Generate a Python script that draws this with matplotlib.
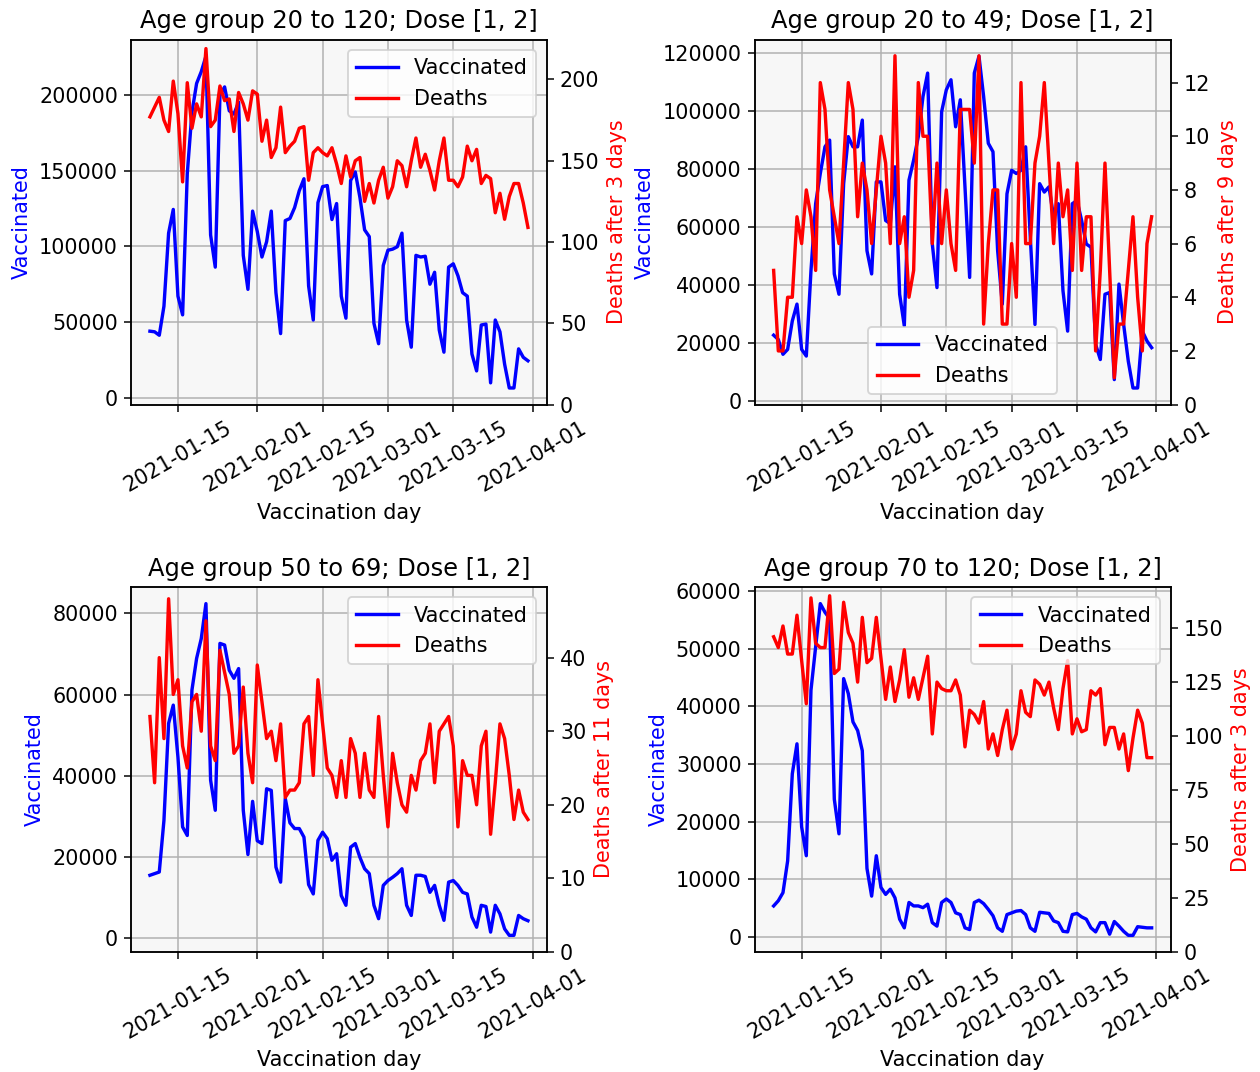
import numpy as np
import pandas as pd
import matplotlib
matplotlib.use('Agg')
import matplotlib.pyplot as plt
import matplotlib.dates as mdates

days = pd.date_range('2021-01-09', '2021-03-31', freq='D')
tick_days = pd.to_datetime(['2021-01-15', '2021-02-01', '2021-02-15',
                            '2021-03-01', '2021-03-15', '2021-04-01'])

titles = ['Age group 20 to 120; Dose [1, 2]', 'Age group 20 to 49; Dose [1, 2]',
          'Age group 50 to 69; Dose [1, 2]', 'Age group 70 to 120; Dose [1, 2]']
lags = [3, 9, 11, 3]
legend_locs = ['upper right', 'lower center', 'upper right', 'upper right']
vacc_ticks = [np.arange(0, 200001, 50000), np.arange(0, 120001, 20000),
              np.arange(0, 80001, 20000), np.arange(0, 60001, 10000)]
death_ticks = [np.arange(0, 201, 50), np.arange(0, 13, 2),
               np.arange(0, 41, 10), np.arange(0, 151, 25)]

vacc_20_120 = [43900, 43500, 41200, 60400, 108800, 124500, 67100, 54700, 148200, 188700,
               207900, 215700, 225900, 107600, 86300, 200000, 205600, 189800, 187600, 195500,
               94100, 71600, 123400, 109900, 93000, 103100, 123400, 69400, 42300, 117100,
               118500, 125700, 136900, 144800, 73900, 51300, 129000, 139600, 140300, 117800,
               128400, 67100, 52500, 143700, 149300, 132400, 111000, 106500, 49100, 35600,
               87400, 97500, 98200, 99800, 108800, 51300, 33300, 94100, 93000, 93500,
               75000, 82900, 44600, 30000, 86300, 88500, 80600, 69400, 67100, 28800,
               17600, 48000, 48600, 9700, 51300, 43500, 22100, 6300, 6300, 32200,
               26600, 24300]
deaths_20_120 = [177, 183, 189, 175, 168, 199, 179, 137, 198, 170,
                 185, 177, 219, 171, 175, 196, 187, 188, 168, 192,
                 185, 175, 193, 191, 162, 175, 152, 158, 183, 155,
                 159, 162, 170, 171, 138, 155, 158, 155, 153, 158,
                 148, 136, 153, 140, 150, 152, 125, 136, 124, 138,
                 146, 127, 134, 150, 147, 134, 150, 164, 146, 154,
                 144, 132, 150, 164, 138, 138, 134, 140, 159, 150,
                 157, 136, 141, 139, 118, 130, 114, 128, 136, 136,
                 124, 109]

vacc_20_49 = [22800, 21300, 16200, 17900, 27700, 33500, 17900, 15600, 45000, 68100,
              78500, 87700, 90000, 43900, 36900, 75000, 91200, 87700, 87700, 96900,
              51900, 43900, 75600, 75600, 62300, 61200, 80800, 36900, 26000, 76200,
              83100, 91200, 105000, 113100, 54200, 39200, 99800, 107300, 110800, 94600,
              103900, 73900, 42700, 113100, 118900, 105000, 88900, 86000, 51900, 33500,
              71500, 79600, 78500, 79600, 87700, 56500, 26500, 75000, 72100, 73900,
              63500, 68100, 38100, 24200, 68100, 69200, 62300, 54200, 53100, 19600,
              14400, 36900, 37500, 7500, 40400, 26500, 13800, 4600, 4600, 24200,
              20800, 18500]
deaths_20_49 = [5, 2, 2, 4, 4, 7, 6, 8, 7, 5,
                12, 11, 8, 7, 6, 9, 12, 11, 7, 9,
                8, 6, 8, 10, 9, 6, 13, 6, 7, 4,
                5, 12, 10, 10, 6, 9, 6, 8, 6, 5,
                11, 11, 11, 9, 13, 3, 6, 8, 8, 3,
                3, 6, 4, 12, 6, 6, 9, 10, 12, 9,
                6, 9, 7, 8, 5, 9, 5, 7, 7, 2,
                5, 9, 5, 1, 3, 3, 5, 7, 4, 2,
                6, 7]

vacc_50_69 = [15500, 15900, 16300, 29000, 52900, 57400, 44600, 27400, 25300, 61100,
              68900, 73800, 82400, 38900, 31500, 72600, 72200, 66000, 64000, 66400,
              31500, 20600, 33700, 24000, 23300, 36800, 36400, 17500, 13800, 34400,
              28400, 27000, 27000, 24900, 13200, 10900, 24100, 26100, 24500, 19200,
              20800, 10500, 8100, 22400, 23300, 19900, 17100, 15900, 8100, 4800,
              13000, 14200, 15000, 15900, 17100, 8100, 5600, 15500, 15500, 15200,
              11300, 13000, 8100, 4400, 13800, 14200, 13000, 11300, 10900, 5200,
              2700, 8100, 7800, 1500, 8100, 6000, 2300, 700, 700, 5600,
              4800, 4300]
deaths_50_69 = [32, 23, 40, 29, 48, 35, 37, 28, 25, 34,
                35, 30, 45, 28, 26, 41, 38, 35, 27, 28,
                36, 27, 23, 39, 34, 29, 30, 26, 31, 21,
                22, 22, 23, 31, 32, 24, 37, 31, 25, 24,
                21, 26, 21, 29, 27, 21, 27, 22, 21, 32,
                24, 17, 27, 23, 20, 19, 24, 22, 26, 27,
                31, 23, 30, 31, 32, 28, 17, 26, 24, 24,
                20, 28, 30, 16, 23, 31, 29, 24, 18, 22,
                19, 18]

vacc_70_120 = [5400, 6300, 7700, 13200, 28300, 33500, 19100, 14100, 42800, 50300,
               57800, 56300, 55200, 23900, 17900, 44800, 42200, 37300, 35800, 32300,
               11900, 7100, 14100, 8600, 7400, 8300, 6800, 3100, 1600, 6000,
               5400, 5400, 5100, 5700, 2500, 1900, 6000, 6600, 6000, 4200,
               3900, 1600, 1300, 6000, 6400, 5800, 4800, 3700, 1600, 1000,
               3900, 4200, 4500, 4600, 3900, 1600, 1000, 4300, 4200, 4100,
               2800, 2500, 1000, 900, 3900, 4100, 3500, 3100, 1600, 900,
               2500, 2500, 500, 2700, 1900, 1000, 300, 300, 1800, 1700,
               1600, 1600]
deaths_70_120 = [146, 141, 151, 138, 138, 156, 135, 115, 164, 143,
                 141, 141, 165, 129, 131, 162, 148, 143, 125, 155,
                 134, 136, 155, 136, 117, 132, 116, 126, 140, 118,
                 127, 117, 127, 137, 101, 125, 122, 121, 121, 126,
                 119, 95, 112, 110, 106, 116, 94, 101, 91, 103,
                 112, 94, 101, 121, 111, 109, 126, 124, 119, 125,
                 113, 103, 122, 135, 101, 108, 102, 103, 121, 119,
                 122, 96, 104, 104, 94, 101, 84, 99, 112, 106,
                 90, 90]

vacc_series = [vacc_20_120, vacc_20_49, vacc_50_69, vacc_70_120]
death_series = [deaths_20_120, deaths_20_49, deaths_50_69, deaths_70_120]

plt.rcParams.update({'font.size': 11.1, 'axes.titlesize': 12.9,
                     'lines.linewidth': 1.8})

dpi = 135
fig, axes = plt.subplots(2, 2, figsize=(1260 / dpi, 1072 / dpi), dpi=dpi)
fig.subplots_adjust(left=0.104, right=0.929, top=0.963, bottom=0.112,
                    wspace=0.5, hspace=0.5)

for i, ax in enumerate(axes.flat):
    ax.set_facecolor('#f7f7f7')
    l1, = ax.plot(days, vacc_series[i], color='b', label='Vaccinated')
    ax.set_yticks(vacc_ticks[i])
    ax.set_ylabel('Vaccinated', color='b')
    ax.set_xlabel('Vaccination day')
    ax.set_title(titles[i])
    ax.grid(True)
    ax.set_xticks(tick_days)
    ax.xaxis.set_major_formatter(mdates.DateFormatter('%Y-%m-%d'))
    ax.tick_params(axis='x', rotation=30)

    ax2 = ax.twinx()
    l2, = ax2.plot(days, death_series[i], color='r', label='Deaths')
    ax2.set_yticks(death_ticks[i])
    ax2.set_ylim(bottom=0)
    ax2.set_ylabel(f'Deaths after {lags[i]} days', color='r')
    ax2.legend(handles=[l1, l2], loc=legend_locs[i])

fig.savefig('out.png', dpi=dpi)
